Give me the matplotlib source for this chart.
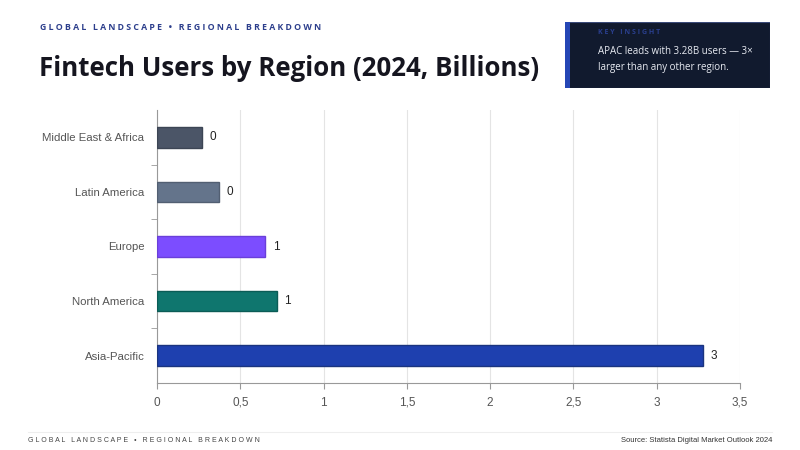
import matplotlib
matplotlib.use("Agg")
import matplotlib.pyplot as plt
from matplotlib.patches import Rectangle
from matplotlib.ticker import FuncFormatter, MultipleLocator

# data
regions = ["Asia-Pacific", "North America", "Europe", "Latin America", "Middle East & Africa"]
users_bn = [3.28, 0.72, 0.65, 0.37, 0.27]
bar_colors = ["#1e40af", "#0f766e", "#7c4dff", "#64748b", "#4b5567"]
edge_colors = ["#1a347f", "#0b5c56", "#6a3fd9", "#525f72", "#3c4554"]

fig = plt.figure(figsize=(8, 4.5), dpi=100, facecolor="white")

# header
fig.text(40 / 800, 1 - 28 / 450, "G L O B A L   L A N D S C A P E   •   R E G I O N A L   B R E A K D O W N",
         fontsize=6.3, color="#2c3e8c", fontweight="bold", family="Open Sans", va="center")
fig.text(39 / 800, 1 - 68 / 450, "Fintech Users by Region (2024, Billions)",
         fontsize=18.6, color="#15151f", fontweight="bold", family="Open Sans", va="center")

# insight box
box = fig.add_axes([565 / 800, 1 - 88 / 450, 205 / 800, 66 / 450])
box.set_xlim(0, 1)
box.set_ylim(0, 1)
box.axis("off")
box.add_patch(Rectangle((0, 0), 1, 1, facecolor="#111a2e", edgecolor="#3a4a78", lw=0.8))
box.add_patch(Rectangle((0, 0), 0.025, 1, facecolor="#2546b5", edgecolor="none"))
box.text(0.16, 0.84, "K E Y   I N S I G H T", fontsize=5, color="#2a3f8f",
         fontweight="bold", va="center", family="Open Sans")
box.text(0.16, 0.56, "APAC leads with 3.28B users — 3×", fontsize=7.0, color="#e8ebf2",
         va="center", family="Open Sans")
box.text(0.16, 0.31, "larger than any other region.", fontsize=7.0, color="#e8ebf2",
         va="center", family="Open Sans")

# chart
ax = fig.add_axes([157 / 800, 1 - 383 / 450, 583 / 800, 273 / 450])
ypos = list(range(len(regions)))
ax.barh(ypos, users_bn, height=0.38, color=bar_colors, edgecolor=edge_colors, linewidth=1.0, zorder=3)
for y, v in zip(ypos, users_bn):
    ax.text(v + 0.045, y, f"{v:.0f}", va="center", ha="left", fontsize=8.5,
            color="#222222", family="Liberation Sans")

ax.set_xlim(0, 3.5)
ax.set_ylim(-0.5, len(regions) - 0.5)
ax.xaxis.set_major_locator(MultipleLocator(0.5))
ax.xaxis.set_major_formatter(FuncFormatter(lambda x, p: f"{x:g}".replace(".", ",")))
ax.set_yticks(ypos)
ax.set_yticklabels(regions)
ax.set_yticks([y + 0.5 for y in ypos[:-1]], minor=True)
ax.tick_params(axis="y", which="major", length=0, pad=9, labelsize=8.2, labelcolor="#555555")
ax.tick_params(axis="y", which="minor", length=4, color="#999999")
ax.tick_params(axis="x", length=4, color="#999999", labelsize=8.5, labelcolor="#555555", pad=6)
for lbl in ax.get_xticklabels() + ax.get_yticklabels():
    lbl.set_family("Liberation Sans")
ax.grid(axis="x", color="#e4e4e4", lw=0.8, zorder=0)
for s in ["top", "right"]:
    ax.spines[s].set_visible(False)
ax.spines["left"].set_color("#999999")
ax.spines["bottom"].set_color("#999999")

# footer
fig.add_artist(plt.Line2D([28 / 800, 772 / 800], [1 - 432 / 450] * 2, color="#eeeeee", lw=0.8))
fig.text(28 / 800, 1 - 441 / 450, "G L O B A L   L A N D S C A P E   •   R E G I O N A L   B R E A K D O W N",
         fontsize=5, color="#444444", va="center", family="Liberation Sans")
fig.text(772 / 800, 1 - 441 / 450, "Source: Statista Digital Market Outlook 2024",
         fontsize=5.5, color="#333333", va="center", ha="right", family="Liberation Sans")

fig.savefig("out.png", dpi=100, facecolor="white")
